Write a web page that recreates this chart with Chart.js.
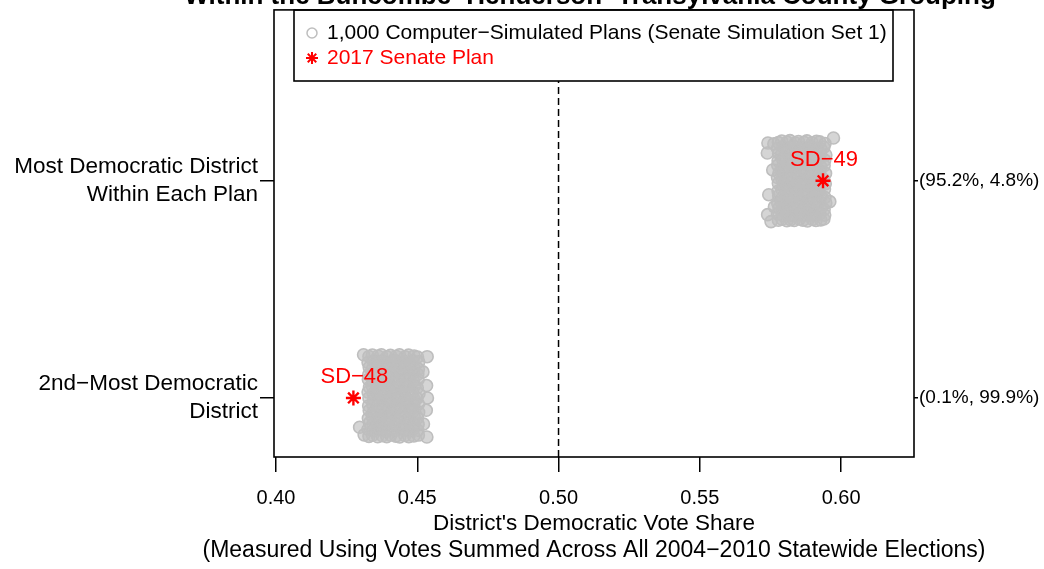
<!DOCTYPE html>
<html>
<head>
<meta charset="utf-8">
<script src="https://cdn.jsdelivr.net/npm/chart.js@4.4.0/dist/chart.umd.min.js"></script>
<style>
  body { margin: 0; background: #fff; }
  canvas { display: block; }
</style>
</head>
<body>
<canvas id="chart" width="1044" height="569"></canvas>
<script>
// axis ticks / labels
const xTicks = [0.40, 0.45, 0.50, 0.55, 0.60];
const groupValues = [1, 2];
const groupLabels = [['2nd−Most Democratic', 'District'], ['Most Democratic District', 'Within Each Plan']];
const shareLabels = ['(0.1%, 99.9%)', '(95.2%, 4.8%)'];
const xTitle = ["District's Democratic Vote Share", '(Measured Using Votes Summed Across All 2004−2010 Statewide Elections)'];

// enacted plan
const planDistricts = ['SD−48', 'SD−49'];
const planShares = [0.4274, 0.5936];

const cutoff = 0.5;

// simulated plans: [vote share, vertical jitter]
const mostSims = [
  [0.5778,0.176],[0.5790,0.183],[0.5809,0.178],[0.5819,0.185],[0.5838,0.174],[0.5849,0.181],[0.5869,0.177],[0.5879,0.184],[0.5898,0.175],[0.5913,0.182],[0.5924,0.179],[0.5943,0.172],
  [0.5775,0.149],[0.5794,0.156],[0.5804,0.147],[0.5824,0.154],[0.5833,0.158],[0.5854,0.146],[0.5864,0.153],[0.5884,0.149],[0.5893,0.157],[0.5914,0.150],[0.5929,0.145],[0.5939,0.155],
  [0.5779,0.127],[0.5788,0.119],[0.5807,0.129],[0.5823,0.121],[0.5839,0.126],[0.5848,0.118],[0.5868,0.128],[0.5883,0.122],[0.5895,0.130],[0.5909,0.120],[0.5927,0.125],[0.5946,0.119],
  [0.5777,0.092],[0.5793,0.100],[0.5803,0.094],[0.5820,0.099],[0.5835,0.090],[0.5853,0.097],[0.5867,0.101],[0.5880,0.093],[0.5899,0.098],[0.5912,0.091],[0.5923,0.102],[0.5942,0.095],
  [0.5776,0.071],[0.5792,0.063],[0.5808,0.069],[0.5822,0.074],[0.5837,0.065],[0.5850,0.072],[0.5865,0.062],[0.5882,0.070],[0.5894,0.066],[0.5910,0.073],[0.5928,0.064],[0.5940,0.070],
  [0.5780,0.036],[0.5789,0.044],[0.5805,0.039],[0.5818,0.046],[0.5834,0.037],[0.5852,0.043],[0.5870,0.035],[0.5878,0.041],[0.5897,0.045],[0.5915,0.038],[0.5925,0.042],[0.5945,0.034],
  [0.5775,0.015],[0.5791,0.008],[0.5810,0.013],[0.5821,0.017],[0.5840,0.009],[0.5847,0.014],[0.5866,0.006],[0.5885,0.011],[0.5892,0.016],[0.5911,0.010],[0.5930,0.014],[0.5938,0.007],
  [0.5778,-0.012],[0.5795,-0.020],[0.5802,-0.014],[0.5825,-0.010],[0.5836,-0.019],[0.5855,-0.013],[0.5863,-0.021],[0.5881,-0.015],[0.5900,-0.011],[0.5908,-0.018],[0.5926,-0.022],[0.5944,-0.014],
  [0.5777,-0.047],[0.5790,-0.040],[0.5806,-0.049],[0.5819,-0.042],[0.5838,-0.046],[0.5849,-0.038],[0.5868,-0.045],[0.5879,-0.050],[0.5896,-0.041],[0.5914,-0.048],[0.5922,-0.043],[0.5941,-0.039],
  [0.5779,-0.069],[0.5793,-0.076],[0.5809,-0.071],[0.5823,-0.067],[0.5833,-0.074],[0.5851,-0.078],[0.5867,-0.070],[0.5884,-0.066],[0.5898,-0.075],[0.5910,-0.069],[0.5929,-0.073],[0.5943,-0.077],
  [0.5776,-0.104],[0.5788,-0.097],[0.5804,-0.102],[0.5822,-0.095],[0.5839,-0.103],[0.5853,-0.099],[0.5864,-0.106],[0.5880,-0.098],[0.5895,-0.101],[0.5913,-0.105],[0.5924,-0.096],[0.5946,-0.102],
  [0.5780,-0.125],[0.5792,-0.131],[0.5807,-0.124],[0.5820,-0.133],[0.5835,-0.127],[0.5848,-0.122],[0.5869,-0.130],[0.5883,-0.126],[0.5893,-0.134],[0.5912,-0.123],[0.5927,-0.129],[0.5940,-0.132],
  [0.5775,-0.153],[0.5794,-0.160],[0.5805,-0.151],[0.5824,-0.158],[0.5837,-0.162],[0.5850,-0.154],[0.5866,-0.159],[0.5882,-0.150],[0.5897,-0.157],[0.5909,-0.161],[0.5925,-0.152],[0.5942,-0.158],
  [0.5778,-0.182],[0.5791,-0.177],[0.5808,-0.184],[0.5821,-0.179],[0.5834,-0.183],[0.5852,-0.176],[0.5865,-0.181],[0.5881,-0.185],[0.5899,-0.178],[0.5911,-0.183],[0.5928,-0.180],[0.5939,-0.176],
  [0.5741,0.174],[0.5739,0.128],[0.5744,-0.064],[0.5740,-0.156],[0.5752,-0.188],[0.5973,0.197],[0.5960,-0.096],[0.5762,0.170],[0.5758,0.050],[0.5764,-0.120]
];

const secondSims = [
  [0.4329,0.191],[0.4341,0.198],[0.4361,0.193],[0.4373,0.199],[0.4393,0.189],[0.4405,0.196],[0.4425,0.192],[0.4437,0.199],[0.4457,0.190],[0.4469,0.197],[0.4489,0.193],[0.4501,0.188],
  [0.4326,0.163],[0.4345,0.170],[0.4357,0.165],[0.4377,0.171],[0.4389,0.161],[0.4409,0.168],[0.4421,0.172],[0.4441,0.164],[0.4453,0.169],[0.4473,0.162],[0.4485,0.171],[0.4505,0.166],
  [0.4330,0.141],[0.4342,0.134],[0.4360,0.143],[0.4376,0.136],[0.4392,0.140],[0.4406,0.132],[0.4424,0.142],[0.4438,0.137],[0.4456,0.144],[0.4470,0.135],[0.4488,0.139],[0.4504,0.133],
  [0.4328,0.106],[0.4344,0.113],[0.4358,0.108],[0.4374,0.114],[0.4390,0.104],[0.4408,0.111],[0.4422,0.115],[0.4440,0.107],[0.4454,0.112],[0.4472,0.105],[0.4486,0.116],[0.4502,0.109],
  [0.4327,0.085],[0.4343,0.077],[0.4361,0.083],[0.4375,0.088],[0.4391,0.079],[0.4407,0.086],[0.4423,0.076],[0.4439,0.084],[0.4455,0.080],[0.4471,0.087],[0.4487,0.078],[0.4503,0.084],
  [0.4331,0.049],[0.4340,0.057],[0.4359,0.052],[0.4372,0.058],[0.4394,0.050],[0.4404,0.055],[0.4426,0.047],[0.4436,0.054],[0.4458,0.058],[0.4468,0.051],[0.4490,0.055],[0.4500,0.047],
  [0.4326,0.027],[0.4344,0.020],[0.4356,0.025],[0.4378,0.029],[0.4388,0.021],[0.4410,0.026],[0.4420,0.018],[0.4442,0.023],[0.4452,0.028],[0.4474,0.022],[0.4484,0.026],[0.4506,0.019],
  [0.4329,0.000],[0.4346,-0.008],[0.4362,-0.002],[0.4371,0.002],[0.4395,-0.007],[0.4403,-0.001],[0.4427,-0.009],[0.4435,-0.003],[0.4459,0.001],[0.4467,-0.006],[0.4491,-0.010],[0.4499,-0.002],
  [0.4328,-0.036],[0.4342,-0.029],[0.4360,-0.038],[0.4376,-0.031],[0.4392,-0.035],[0.4406,-0.027],[0.4424,-0.034],[0.4438,-0.039],[0.4456,-0.030],[0.4470,-0.037],[0.4488,-0.032],[0.4504,-0.028],
  [0.4330,-0.058],[0.4345,-0.065],[0.4357,-0.060],[0.4377,-0.056],[0.4389,-0.063],[0.4409,-0.067],[0.4421,-0.059],[0.4441,-0.055],[0.4453,-0.064],[0.4473,-0.058],[0.4485,-0.062],[0.4505,-0.066],
  [0.4327,-0.094],[0.4341,-0.087],[0.4361,-0.092],[0.4373,-0.085],[0.4393,-0.093],[0.4405,-0.089],[0.4425,-0.096],[0.4437,-0.088],[0.4457,-0.091],[0.4469,-0.095],[0.4489,-0.086],[0.4501,-0.092],
  [0.4331,-0.115],[0.4343,-0.121],[0.4359,-0.114],[0.4375,-0.123],[0.4391,-0.117],[0.4407,-0.112],[0.4423,-0.120],[0.4439,-0.116],[0.4455,-0.124],[0.4471,-0.113],[0.4487,-0.119],[0.4503,-0.122],
  [0.4326,-0.144],[0.4344,-0.151],[0.4358,-0.142],[0.4374,-0.149],[0.4390,-0.153],[0.4408,-0.145],[0.4422,-0.150],[0.4440,-0.141],[0.4454,-0.148],[0.4472,-0.152],[0.4486,-0.143],[0.4502,-0.149],
  [0.4329,-0.177],[0.4342,-0.172],[0.4360,-0.179],[0.4376,-0.174],[0.4392,-0.178],[0.4406,-0.171],[0.4424,-0.176],[0.4438,-0.180],[0.4456,-0.173],[0.4470,-0.178],[0.4488,-0.175],[0.4504,-0.171],
  [0.4535,0.190],[0.4533,0.057],[0.4536,0.000],[0.4532,-0.057],[0.4534,-0.180],[0.4520,0.120],[0.4522,-0.120],
  [0.4296,-0.135],[0.4310,0.199],[0.4312,-0.170]
];

const xMin = 0.3993, xMax = 0.6258;
const yMin = 0.728, yMax = 2.787;

const FONT = "'Liberation Sans', Arial, sans-serif";
const GREY = '#bebebe';
const RED = '#ff0000';

Chart.defaults.font.family = FONT;
Chart.defaults.font.size = 21;
Chart.defaults.color = '#000';

// box, legend, title, axis title and district labels
const decor = {
  id: 'decor',
  afterDatasetsDraw(chart) {
    const ctx = chart.ctx;
    const a = chart.chartArea;
    const cx = (a.left + a.right) / 2;
    ctx.save();

    // plan labels above the stars
    ctx.fillStyle = RED;
    ctx.font = '22px ' + FONT;
    ctx.textAlign = 'center';
    ctx.textBaseline = 'middle';
    chart.getDatasetMeta(0).data.forEach((p, i) => {
      ctx.fillText(planDistricts[i], p.x + 1, p.y - 21);
    });

    // legend box
    const lx = 294, ly = 10, lw = 599, lh = 71;
    ctx.fillStyle = '#fff';
    ctx.fillRect(lx, ly, lw, lh);
    ctx.strokeStyle = '#000';
    ctx.lineWidth = 1.6;
    ctx.strokeRect(lx, ly, lw, lh);

    ctx.font = '21px ' + FONT;
    ctx.textAlign = 'left';
    ctx.lineWidth = 1.5;
    ctx.strokeStyle = GREY;
    ctx.beginPath();
    ctx.arc(lx + 18, ly + 23, 5, 0, Math.PI * 2);
    ctx.stroke();
    ctx.fillStyle = '#000';
    ctx.fillText(chart.data.datasets[1].label, lx + 33, ly + 23);

    ctx.strokeStyle = RED;
    ctx.lineWidth = 2;
    const sx = lx + 18, sy = ly + 48, r = 6;
    for (let k = 0; k < 4; k++) {
      const ang = k * Math.PI / 4;
      ctx.beginPath();
      ctx.moveTo(sx - r * Math.cos(ang), sy - r * Math.sin(ang));
      ctx.lineTo(sx + r * Math.cos(ang), sy + r * Math.sin(ang));
      ctx.stroke();
    }
    ctx.fillStyle = RED;
    ctx.fillText(chart.data.datasets[0].label, lx + 33, ly + 48);

    // plot box
    ctx.strokeStyle = '#000';
    ctx.lineWidth = 1.6;
    ctx.strokeRect(a.left, a.top, a.right - a.left, a.bottom - a.top);

    // x axis title, two lines
    ctx.fillStyle = '#000';
    ctx.textAlign = 'center';
    ctx.font = '22.5px ' + FONT;
    ctx.fillText(xTitle[0], cx, a.bottom + 67);
    ctx.font = '23px ' + FONT;
    ctx.fillText(xTitle[1], cx, a.bottom + 94);

    // title (cut at the top edge)
    ctx.font = 'bold 26px ' + FONT;
    ctx.textBaseline = 'alphabetic';
    ctx.fillText('Within the Buncombe−Henderson−Transylvania County Grouping', cx - 4, 4);
    ctx.restore();
  }
};

const tickGrid = (len) => ({
  display: true,
  drawOnChartArea: false,
  drawTicks: true,
  tickLength: len,
  color: '#000',
  lineWidth: 1.5
});

// drop the automatic label padding so the plot box keeps its place
const noPad = (s) => { s.paddingTop = 0; s.paddingBottom = 0; s.paddingLeft = 0; s.paddingRight = 0; };

new Chart(document.getElementById('chart'), {
  type: 'scatter',
  data: {
    datasets: [
      {
        label: '2017 Senate Plan',
        data: planShares.map((x, i) => ({ x: x, y: groupValues[i] })),
        pointStyle: 'star',
        pointRadius: 7.5,
        borderWidth: 2.4,
        borderColor: RED,
        backgroundColor: RED
      },
      {
        label: '1,000 Computer−Simulated Plans (Senate Simulation Set 1)',
        data: mostSims.map(([x, j]) => ({ x: x, y: 2 + j }))
          .concat(secondSims.map(([x, j]) => ({ x: x, y: 1 + j }))),
        pointStyle: 'circle',
        pointRadius: 6,
        borderWidth: 1.6,
        borderColor: GREY,
        backgroundColor: 'rgba(190,190,190,0.65)'
      },
      {
        label: 'cutoff',
        data: [{ x: cutoff, y: yMin }, { x: cutoff, y: yMax }],
        showLine: true,
        pointRadius: 0,
        borderColor: '#000',
        borderWidth: 1.5,
        borderDash: [7, 4]
      }
    ]
  },
  options: {
    responsive: false,
    animation: false,
    devicePixelRatio: 1,
    layout: { padding: { top: 7, left: 0, right: 0, bottom: 0 } },
    plugins: {
      legend: { display: false },
      tooltip: { enabled: false },
      title: { display: false }
    },
    scales: {
      x: {
        type: 'linear',
        min: xMin,
        max: xMax,
        afterBuildTicks: (s) => { s.ticks = xTicks.map(v => ({ value: v })); },
        afterFit: (s) => { s.height = 112; noPad(s); },
        ticks: {
          callback: (v) => Number(v).toFixed(2),
          padding: 14,
          maxRotation: 0,
          autoSkip: false,
          font: { size: 20 }
        },
        grid: tickGrid(15),
        border: { display: false }
      },
      y: {
        type: 'linear',
        position: 'left',
        min: yMin,
        max: yMax,
        afterBuildTicks: (s) => { s.ticks = groupValues.map(v => ({ value: v })); },
        afterFit: (s) => { s.width = 274; noPad(s); },
        ticks: {
          callback: (v, i) => groupLabels[i],
          padding: 2,
          autoSkip: false,
          font: { size: 22.5, lineHeight: 1.25 }
        },
        grid: tickGrid(14),
        border: { display: false }
      },
      y2: {
        type: 'linear',
        position: 'right',
        min: yMin,
        max: yMax,
        afterBuildTicks: (s) => { s.ticks = groupValues.map(v => ({ value: v })); },
        afterFit: (s) => { s.width = 130; noPad(s); },
        ticks: {
          callback: (v, i) => shareLabels[i],
          padding: 1,
          autoSkip: false,
          font: { size: 19 }
        },
        grid: tickGrid(4),
        border: { display: false }
      }
    }
  },
  plugins: [decor]
});
</script>
</body>
</html>
